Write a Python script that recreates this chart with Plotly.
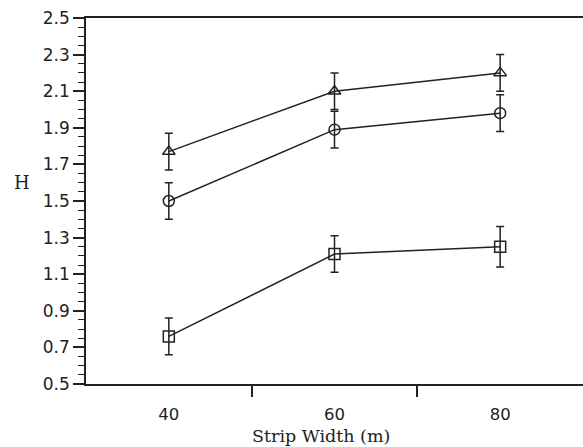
import plotly.graph_objects as go

strip_width = [40, 60, 80]
h_triangle = [1.77, 2.10, 2.20]
h_circle = [1.50, 1.89, 1.98]
h_square = [0.76, 1.21, 1.25]
err_triangle = [0.10, 0.10, 0.10]
err_circle = [0.10, 0.10, 0.10]
err_square = [0.10, 0.10, 0.11]
x_tick_vals = [40, 60, 80]
x_tick_text = ["40", "60", "80"]
x_minor_vals = [50, 70]

ink = "#222222"
fig = go.Figure()
for ys, errs, sym in [(h_triangle, err_triangle, "triangle-up-open"),
                      (h_circle, err_circle, "circle-open"),
                      (h_square, err_square, "square-open")]:
    fig.add_trace(go.Scatter(
        x=strip_width, y=ys, mode="lines+markers",
        line=dict(color=ink, width=1.5),
        marker=dict(symbol=sym, size=11, color=ink, line=dict(width=1.5, color=ink)),
        error_y=dict(type="data", array=errs, visible=True, color=ink, thickness=1.5, width=4),
        showlegend=False,
    ))

fig.update_layout(
    width=583, height=447,
    margin=dict(l=86, r=0, t=18, b=63),
    paper_bgcolor="white", plot_bgcolor="white",
    font=dict(family="DejaVu Sans", size=16, color=ink),
    xaxis=dict(
        range=[30, 90], showgrid=False, zeroline=False,
        showline=True, linecolor=ink, linewidth=1.5, mirror=True,
        tickvals=x_tick_vals, ticktext=x_tick_text,
        ticks="outside", ticklen=14, tickcolor="rgba(0,0,0,0)",
        tickfont=dict(family="DejaVu Sans", size=16.5, color=ink),
        minor=dict(tickvals=x_minor_vals, ticks="outside", ticklen=11,
                   tickcolor=ink, tickwidth=1.5, showgrid=False),
    ),
    yaxis=dict(
        range=[0.5, 2.5], showgrid=False, zeroline=False,
        showline=True, linecolor=ink, linewidth=1.5,
        tick0=0.5, dtick=0.2, tickformat=".1f",
        ticks="outside", ticklen=11, tickwidth=1.5, tickcolor=ink,
        tickfont=dict(family="DejaVu Sans", size=17, color=ink),
        minor=dict(dtick=0.05, tick0=0.5, ticks="outside", ticklen=6,
                   tickcolor=ink, tickwidth=1.2, showgrid=False),
    ),
    annotations=[
        dict(text="H", xref="paper", yref="paper", x=(22 - 86) / 497, y=(384 - 183) / 366,
             xanchor="center", yanchor="middle", showarrow=False,
             font=dict(family="DejaVu Serif", size=18, color=ink)),
        dict(text="Strip Width (m)", xref="paper", yref="paper", x=(321 - 86) / 497,
             y=(384 - 436) / 366, xanchor="center", yanchor="middle", showarrow=False,
             font=dict(family="DejaVu Serif", size=17.5, color=ink)),
    ],
)

fig.write_html(
    "out.html",
    config={"displayModeBar": False},
    post_script="document.body.style.margin='0';document.documentElement.style.overflow='hidden';",
)
